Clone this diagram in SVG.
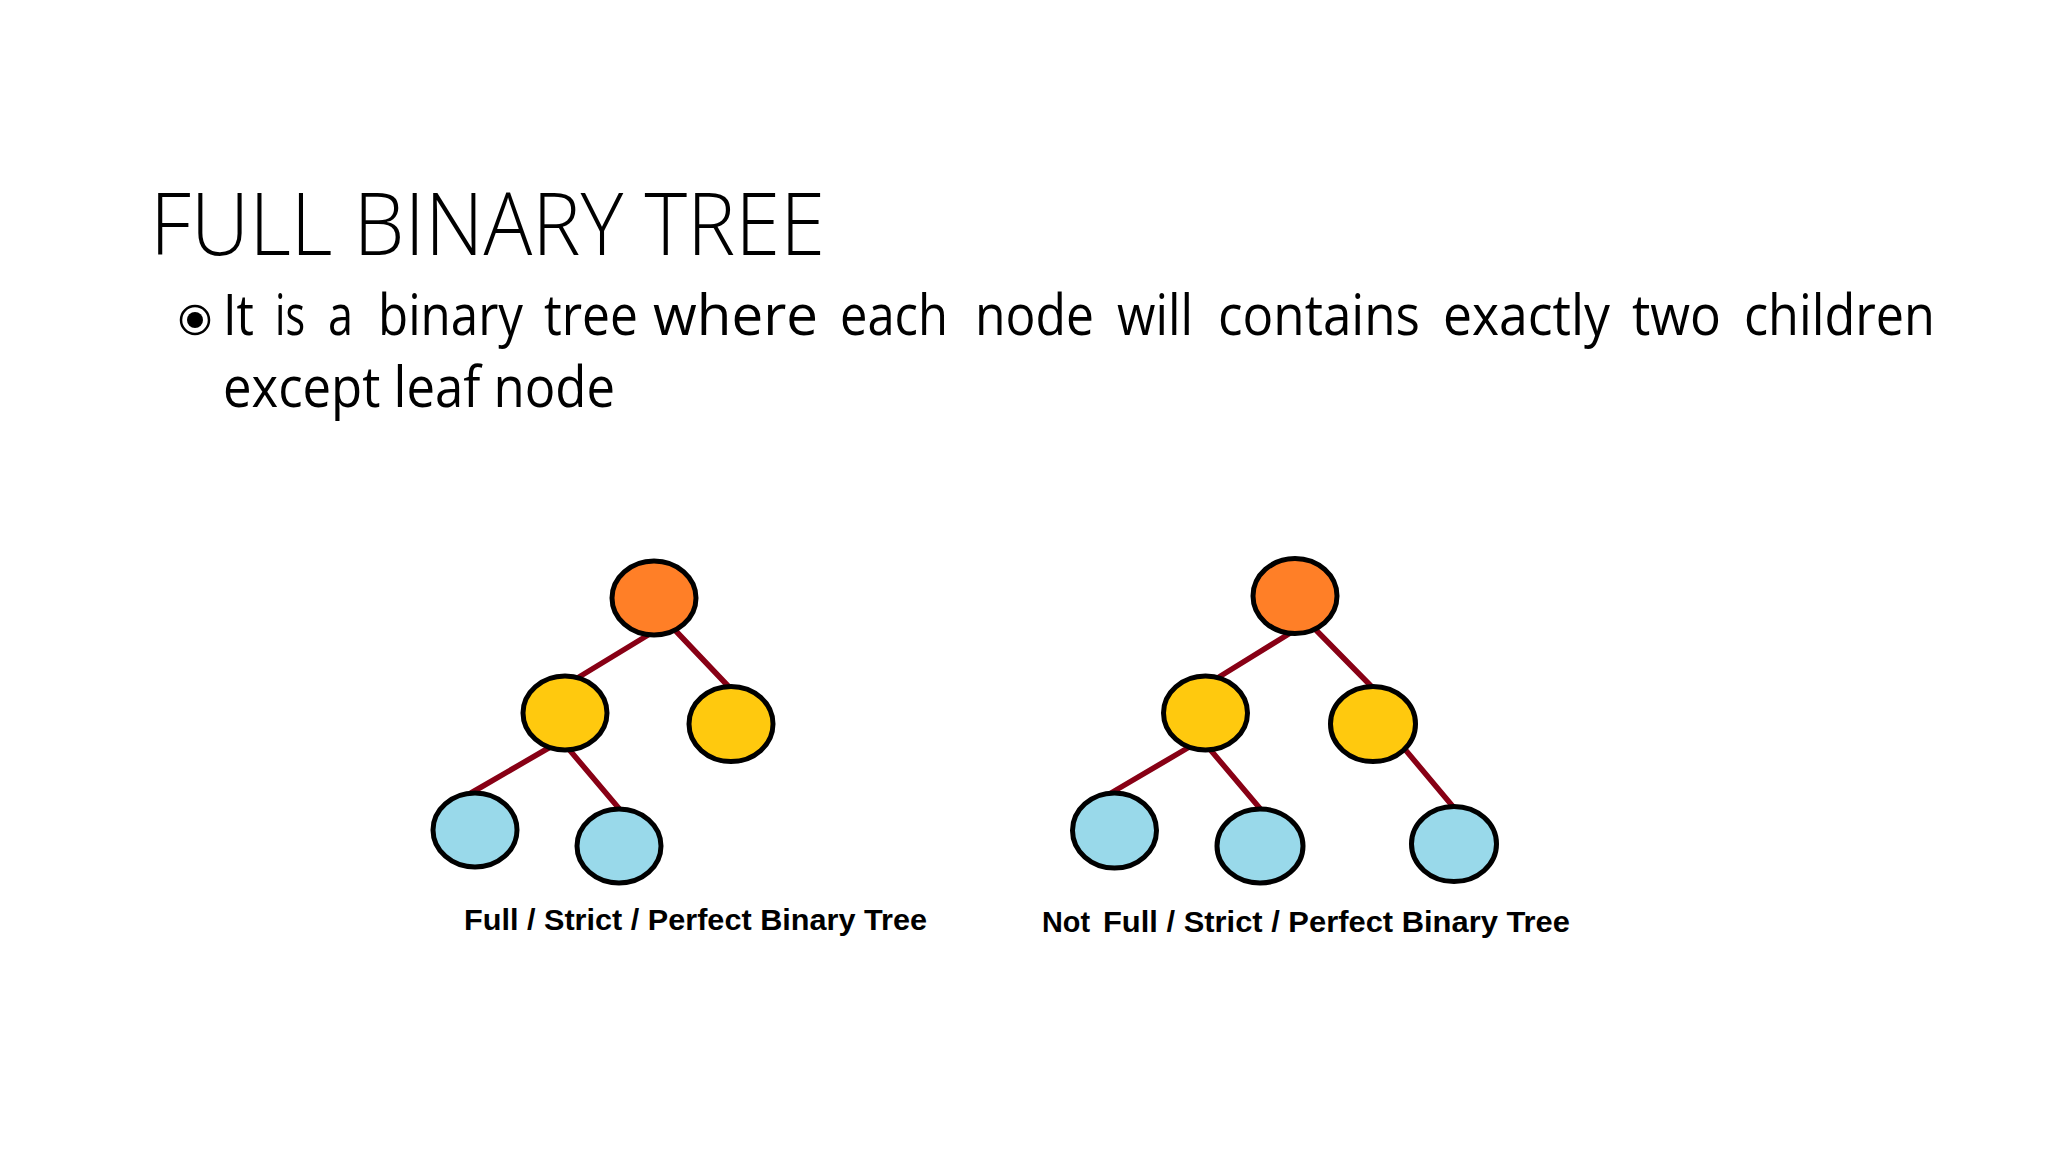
<svg xmlns="http://www.w3.org/2000/svg" width="2048" height="1152" viewBox="0 0 2048 1152">
  <style>
    .title { font-family: "Open Sans", "Liberation Sans", sans-serif; font-weight: 300; font-size: 86px; fill: #000; }
    .body { font-family: "Open Sans", "Liberation Sans", sans-serif; font-size: 57px; fill: #000; }
    .label { font-family: "Liberation Sans", Arial, sans-serif; font-weight: bold; font-size: 30px; fill: #000; }
    .edge { stroke: #880015; stroke-width: 5.5; stroke-linecap: round; fill: none; }
    .node { stroke: #000; stroke-width: 5; }
    .root { fill: #FF7F27; }
    .mid { fill: #FFC90E; }
    .leaf { fill: #99D9EA; }
  </style>
  <defs>
    <marker id="tip" viewBox="0 0 10 10" refX="2" refY="5" markerWidth="12" markerHeight="12" markerUnits="userSpaceOnUse" orient="auto-start-reverse">
      <path d="M0,0 L10,5 L0,10 z" fill="#880015"/>
    </marker>
  </defs>
  <rect width="2048" height="1152" fill="#fff"/>

  <g id="heading">
    <text class="title" x="150" y="255" textLength="675" lengthAdjust="spacingAndGlyphs">FULL BINARY TREE</text>
  </g>

  <g id="bullet">
    <circle cx="195" cy="320" r="14" fill="none" stroke="#000" stroke-width="2.5"/>
    <circle cx="195" cy="320" r="8" fill="#000"/>
    <g transform="translate(-3,-2)">
      <text class="body" x="226" y="337" textLength="31" lengthAdjust="spacingAndGlyphs">It</text>
      <text class="body" x="278" y="337" textLength="30" lengthAdjust="spacingAndGlyphs">is</text>
      <text class="body" x="331" y="337" textLength="25" lengthAdjust="spacingAndGlyphs">a</text>
      <text class="body" x="381" y="337" textLength="145" lengthAdjust="spacingAndGlyphs">binary</text>
      <text class="body" x="547" y="337" textLength="94" lengthAdjust="spacingAndGlyphs">tree</text>
      <text class="body" x="656" y="337" textLength="165" lengthAdjust="spacingAndGlyphs">where</text>
      <text class="body" x="843" y="337" textLength="108" lengthAdjust="spacingAndGlyphs">each</text>
      <text class="body" x="978" y="337" textLength="119" lengthAdjust="spacingAndGlyphs">node</text>
      <text class="body" x="1120" y="337" textLength="76" lengthAdjust="spacingAndGlyphs">will</text>
      <text class="body" x="1221" y="337" textLength="202" lengthAdjust="spacingAndGlyphs">contains</text>
      <text class="body" x="1446" y="337" textLength="167" lengthAdjust="spacingAndGlyphs">exactly</text>
      <text class="body" x="1635" y="337" textLength="89" lengthAdjust="spacingAndGlyphs">two</text>
      <text class="body" x="1747" y="337" textLength="191" lengthAdjust="spacingAndGlyphs">children</text>
      <text class="body" x="226" y="409" textLength="392" lengthAdjust="spacingAndGlyphs">except leaf node</text>
    </g>
  </g>

  <g id="connectors">
    <!-- left tree -->
    <line class="edge" x1="653" y1="632" x2="579" y2="677"/>
    <line class="edge" x1="673" y1="628" x2="730" y2="688" marker-start="url(#tip)"/>
    <line class="edge" x1="552" y1="746" x2="471" y2="793"/>
    <line class="edge" x1="567" y1="747" x2="622" y2="812" marker-start="url(#tip)"/>
    <!-- right tree -->
    <line class="edge" x1="1292" y1="632" x2="1219" y2="677"/>
    <line class="edge" x1="1313" y1="627" x2="1372" y2="687" marker-start="url(#tip)"/>
    <line class="edge" x1="1191" y1="746" x2="1111" y2="793"/>
    <line class="edge" x1="1208" y1="747" x2="1263" y2="812" marker-start="url(#tip)"/>
    <line class="edge" x1="1403" y1="747" x2="1455" y2="809"/>
  </g>

  <g id="tree-full">
    <g id="l-root"><ellipse class="node root" cx="654" cy="598" rx="42" ry="37"/></g>
    <g id="l-mid-left"><ellipse class="node mid" cx="565" cy="713" rx="42" ry="37"/></g>
    <g id="l-mid-right"><ellipse class="node mid" cx="731" cy="724" rx="42" ry="37.5"/></g>
    <g id="l-leaf-1"><ellipse class="node leaf" cx="475" cy="830" rx="42" ry="37"/></g>
    <g id="l-leaf-2"><ellipse class="node leaf" cx="619" cy="846" rx="42" ry="37"/></g>
  </g>

  <g id="tree-not-full">
    <g id="r-root"><ellipse class="node root" cx="1295" cy="596" rx="42" ry="37.5"/></g>
    <g id="r-mid-left"><ellipse class="node mid" cx="1205.5" cy="713" rx="42" ry="37"/></g>
    <g id="r-mid-right"><ellipse class="node mid" cx="1373" cy="724" rx="42.5" ry="37.5"/></g>
    <g id="r-leaf-1"><ellipse class="node leaf" cx="1114.5" cy="830.5" rx="42" ry="37.5"/></g>
    <g id="r-leaf-2"><ellipse class="node leaf" cx="1260" cy="846" rx="43" ry="37"/></g>
    <g id="r-leaf-3"><ellipse class="node leaf" cx="1454" cy="844" rx="42.5" ry="37.5"/></g>
  </g>

  <g id="labels">
    <text class="label" x="464" y="930" textLength="463" lengthAdjust="spacingAndGlyphs">Full / Strict / Perfect Binary Tree</text>
    <text class="label" x="1042" y="932" textLength="48" lengthAdjust="spacingAndGlyphs">Not</text>
    <text class="label" x="1103" y="932" textLength="467" lengthAdjust="spacingAndGlyphs">Full / Strict / Perfect Binary Tree</text>
  </g>
</svg>
